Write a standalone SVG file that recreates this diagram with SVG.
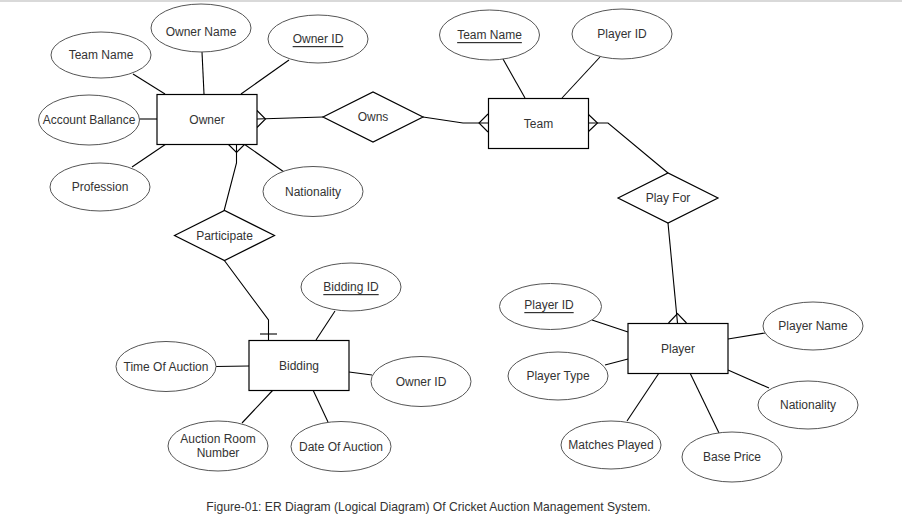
<svg xmlns="http://www.w3.org/2000/svg" width="902" height="526" viewBox="0 0 902 526">
<style>
.ent{fill:#fff;stroke:#000;stroke-width:1.2}
.att{fill:#fff;stroke:#555;stroke-width:1}
.rel{fill:#fff;stroke:#000;stroke-width:1.2}
.ln{fill:none;stroke:#000;stroke-width:1.1}
text{font-family:"Liberation Sans",Arial,Helvetica,sans-serif;font-size:12px;fill:#333;text-anchor:middle;dominant-baseline:central}
.u{text-decoration:underline}
.cap{font-size:12.1px;fill:#333}
</style>
<rect x="0" y="0" width="902" height="526" fill="#fff"/>
<rect x="0" y="0" width="902" height="2" fill="#d9d9d9"/>
<g id="connectors">
<line class="ln" x1="133" y1="74" x2="165" y2="94"/>
<line class="ln" x1="202" y1="52" x2="204" y2="94"/>
<line class="ln" x1="289" y1="60" x2="241" y2="94"/>
<line class="ln" x1="139" y1="119" x2="157" y2="119"/>
<line class="ln" x1="132" y1="167" x2="166" y2="144"/>
<line class="ln" x1="244" y1="144" x2="284" y2="172"/>
<polyline class="ln" points="257,119 323,117"/>
<polyline class="ln" points="257,110.5 265.5,119 257,127.5"/>
<polyline class="ln" points="423,117 463,123 488,123"/>
<polyline class="ln" points="488,114 479,123 488,132"/>
<line class="ln" x1="503" y1="59" x2="525" y2="98"/>
<line class="ln" x1="600" y1="57" x2="562" y2="98"/>
<polyline class="ln" points="588,123 608,123 668,173"/>
<polyline class="ln" points="588,114 597.5,123 588,132"/>
<polyline class="ln" points="668,223 677.5,323"/>
<polyline class="ln" points="668.5,323 677.5,313.5 686.5,323"/>
<line class="ln" x1="592" y1="320" x2="628" y2="332"/>
<line class="ln" x1="605" y1="365" x2="628" y2="359"/>
<line class="ln" x1="627" y1="421" x2="659" y2="373"/>
<line class="ln" x1="719" y1="433" x2="690" y2="373"/>
<line class="ln" x1="728" y1="370" x2="769" y2="388"/>
<line class="ln" x1="728" y1="339" x2="765" y2="333"/>
<polyline class="ln" points="236.5,144 236.5,163 224,211"/>
<polyline class="ln" points="228,144 236.5,152.5 245,144"/>
<polyline class="ln" points="224,260 268.5,320 268.5,340"/>
<line class="ln" x1="260" y1="334" x2="277" y2="334"/>
<line class="ln" x1="335" y1="311" x2="316" y2="340"/>
<line class="ln" x1="349" y1="372" x2="372" y2="375"/>
<line class="ln" x1="313" y1="390" x2="328" y2="422"/>
<line class="ln" x1="273" y1="390" x2="242" y2="423"/>
<line class="ln" x1="216" y1="366.5" x2="249" y2="366"/>
</g>
<g id="owner"><rect class="ent" x="157" y="94.5" width="100" height="50"/><text x="207" y="119.5">Owner</text></g>
<g id="owner-team-name"><ellipse class="att" cx="101" cy="55" rx="50" ry="23"/><text x="101" y="55">Team Name</text></g>
<g id="owner-name"><ellipse class="att" cx="201" cy="28" rx="50" ry="24"/><text x="201" y="32">Owner Name</text></g>
<g id="owner-id"><ellipse class="att" cx="318" cy="39" rx="50" ry="24"/><text class="u" x="318" y="39">Owner ID</text></g>
<g id="account-ballance"><ellipse class="att" cx="89" cy="120" rx="50.5" ry="25"/><text x="89" y="119.5">Account Ballance</text></g>
<g id="profession"><ellipse class="att" cx="100" cy="187" rx="50" ry="24"/><text x="100" y="187">Profession</text></g>
<g id="owner-nationality"><ellipse class="att" cx="313" cy="191.5" rx="50" ry="25"/><text x="313" y="192">Nationality</text></g>
<g id="owns"><polygon class="rel" points="323,117 373,92 423,117 373,142"/><text x="373" y="117">Owns</text></g>
<g id="team"><rect class="ent" x="488.5" y="98.5" width="100" height="50"/><text x="538.5" y="123.5">Team</text></g>
<g id="team-name"><ellipse class="att" cx="489.5" cy="35" rx="50" ry="25"/><text class="u" x="489.5" y="35">Team Name</text></g>
<g id="team-player-id"><ellipse class="att" cx="622" cy="34" rx="50" ry="25"/><text x="622" y="34">Player ID</text></g>
<g id="play-for"><polygon class="rel" points="618,198 668,173 718,198 668,223"/><text x="668" y="198">Play For</text></g>
<g id="player"><rect class="ent" x="628" y="323.5" width="100" height="50"/><text x="678" y="348.5">Player</text></g>
<g id="player-id"><ellipse class="att" cx="550.5" cy="306.5" rx="51" ry="23"/><text class="u" x="549" y="305">Player ID</text></g>
<g id="player-type"><ellipse class="att" cx="558" cy="376" rx="50" ry="24"/><text x="558" y="376">Player Type</text></g>
<g id="matches-played"><ellipse class="att" cx="611" cy="445" rx="50" ry="24"/><text x="611" y="445">Matches Played</text></g>
<g id="base-price"><ellipse class="att" cx="732" cy="457" rx="50" ry="25"/><text x="732" y="457">Base Price</text></g>
<g id="player-nationality"><ellipse class="att" cx="808" cy="405" rx="50" ry="24"/><text x="808" y="405">Nationality</text></g>
<g id="player-name"><ellipse class="att" cx="813" cy="326" rx="50" ry="24"/><text x="813" y="326">Player Name</text></g>
<g id="participate"><polygon class="rel" points="174.5,235.5 224.5,210.5 274.5,235.5 224.5,260.5"/><text x="224.5" y="235.5">Participate</text></g>
<g id="bidding"><rect class="ent" x="249" y="340.5" width="100" height="50"/><text x="299" y="365.5">Bidding</text></g>
<g id="bidding-id"><ellipse class="att" cx="351" cy="287" rx="50" ry="24"/><text class="u" x="351" y="287">Bidding ID</text></g>
<g id="bidding-owner-id"><ellipse class="att" cx="421" cy="381.5" rx="50" ry="25"/><text x="421" y="381.5">Owner ID</text></g>
<g id="date-of-auction"><ellipse class="att" cx="341" cy="446.5" rx="50" ry="25"/><text x="341" y="446.5">Date Of Auction</text></g>
<g id="auction-room-number"><ellipse class="att" cx="218" cy="446" rx="50" ry="25"/><text x="218" y="439">Auction Room</text><text x="218" y="453">Number</text></g>
<g id="time-of-auction"><ellipse class="att" cx="166" cy="366.5" rx="50" ry="25"/><text x="166" y="366.5">Time Of Auction</text></g>
<text class="cap" x="428.5" y="507">Figure-01: ER Diagram (Logical Diagram) Of Cricket Auction Management System.</text>
</svg>
